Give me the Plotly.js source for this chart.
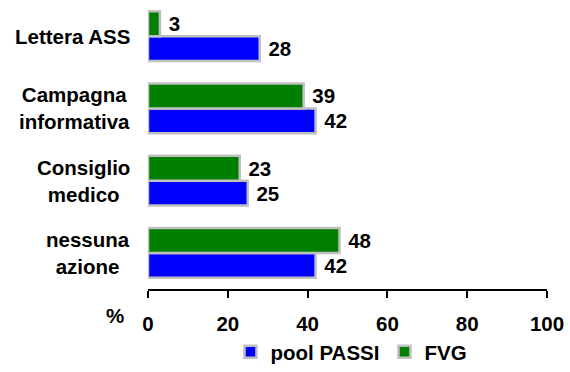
<!DOCTYPE html>
<html><head><meta charset="utf-8">
<script src="https://cdn.plot.ly/plotly-3.0.1.min.js"></script>
<style>html,body{margin:0;padding:0;background:#fff}#chart{width:570px;height:372px}</style>
</head><body><div id="chart"></div>
<script>
// Categories listed bottom to top
const categories = ['nessuna azione', 'Consiglio medico', 'Campagna informativa', 'Lettera ASS'];
const categoryLabels = ['nessuna<br>azione', 'Consiglio<br>medico', 'Campagna<br>informativa', 'Lettera ASS'];
const poolPassi = [42, 25, 42, 28];
const fvg = [48, 23, 39, 3];
const xTicks = [0, 20, 40, 60, 80, 100];

const FONT = 'Liberation Sans, Arial, sans-serif';
const txtFont = {family: FONT, size: 20.5, color: '#000', weight: 'bold'};

const common = {
  type: 'bar', orientation: 'h', y: categories,
  textposition: 'outside', texttemplate: '\u00a0%{x}',
  textfont: txtFont, cliponaxis: false, constraintext: 'none',
  hoverinfo: 'none'
};
const traces = [
  Object.assign({}, common, {name: 'pool PASSI', x: poolPassi,
    marker: {color: '#0000ff', line: {color: '#c0c0c0', width: 2.5}}}),
  Object.assign({}, common, {name: 'FVG', x: fvg,
    marker: {color: '#007f00', line: {color: '#c0c0c0', width: 2.5}}})
];

const annotations = categories.map((c, i) => ({
  xref: 'paper', yref: 'y', x: -0.04, y: c, xanchor: 'right', yanchor: 'middle',
  align: 'center', text: categoryLabels[i], showarrow: false, font: txtFont
}));
annotations.push({xref: 'paper', yref: 'paper', x: -0.083, y: -0.09, xanchor: 'center', yanchor: 'middle',
  text: '%', showarrow: false, font: txtFont});

const layout = {
  width: 570, height: 372,
  margin: {l: 148, r: 23, t: 0, b: 76},
  paper_bgcolor: '#fff', plot_bgcolor: '#fff',
  font: txtFont,
  barmode: 'group', bargap: 0.31, bargroupgap: 0,
  showlegend: true,
  legend: {orientation: 'h', x: 0.51, xanchor: 'center', y: -0.22, yanchor: 'middle',
    font: txtFont, itemwidth: 30, tracegroupgap: 0},
  xaxis: {range: [0, 100], tickvals: xTicks, ticktext: xTicks.map(String),
    showgrid: false, zeroline: false, showline: true, linecolor: '#000', linewidth: 2,
    ticks: 'outside', ticklen: 7, tickwidth: 2, tickcolor: '#000',
    ticklabelstandoff: 8, tickfont: txtFont, fixedrange: true},
  yaxis: {type: 'category', categoryorder: 'array', categoryarray: categories,
    range: [-0.5, 3.5], showticklabels: false, showgrid: false, zeroline: false,
    showline: false, ticks: '', fixedrange: true},
  annotations: annotations
};
Plotly.newPlot('chart', traces, layout, {displayModeBar: false, staticPlot: true});
</script></body></html>
